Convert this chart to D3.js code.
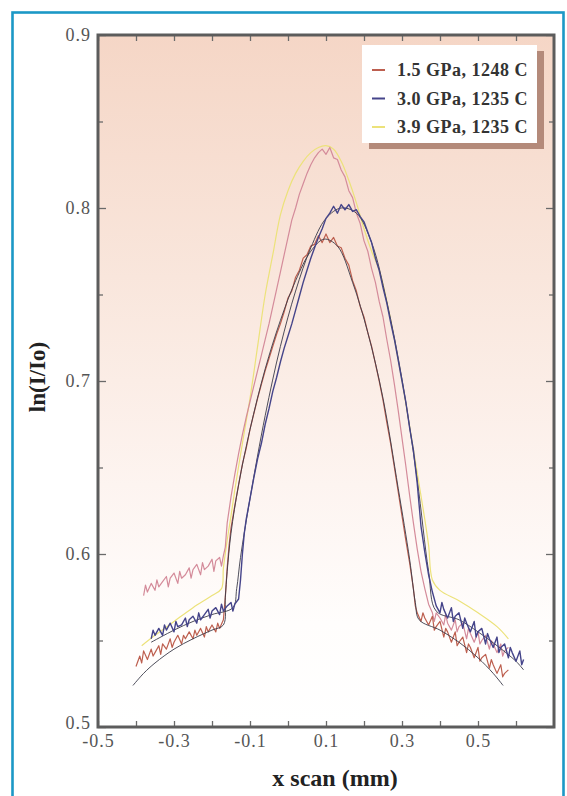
<!DOCTYPE html>
<html><head><meta charset="utf-8">
<script src="https://cdn.jsdelivr.net/npm/d3@7"></script>
<style>html,body{margin:0;padding:0;background:#fff;} svg{display:block;}</style>
</head><body>
<script>
// ---- axis values ----
const xTickValues = [-0.5,-0.4,-0.3,-0.2,-0.1,0,0.1,0.2,0.3,0.4,0.5,0.6];
const xTickLabels = [-0.5,-0.3,-0.1,0.1,0.3,0.5];
const yMajorTicks = [0.5,0.6,0.7,0.8,0.9];
const yMinorTicks = [0.55,0.65,0.75,0.85];

// ---- legend ----
const legendNames = ["1.5 GPa, 1248 C","3.0 GPa, 1235 C","3.9 GPa, 1235 C"];

// ---- measured profiles [x (mm), ln(I/Io)] ----
const data15 = [
[-0.40,0.535],[-0.39,0.541],[-0.385,0.537],[-0.38,0.544],[-0.37,0.539],[-0.36,0.545],[-0.355,0.541],[-0.35,0.543],
[-0.34,0.547],[-0.335,0.542],[-0.33,0.548],[-0.32,0.545],[-0.31,0.551],[-0.305,0.546],[-0.30,0.549],[-0.29,0.553],
[-0.28,0.548],[-0.275,0.553],[-0.27,0.551],[-0.26,0.555],[-0.25,0.551],[-0.245,0.556],[-0.24,0.553],[-0.23,0.557],
[-0.22,0.552],[-0.215,0.558],[-0.21,0.555],[-0.20,0.559],[-0.19,0.555],[-0.185,0.560],[-0.18,0.557],[-0.17,0.562],
[-0.165,0.575],[-0.16,0.592],[-0.155,0.605],[-0.15,0.615],[-0.14,0.628],[-0.13,0.640],[-0.12,0.652],[-0.11,0.661],
[-0.10,0.672],[-0.09,0.681],[-0.08,0.690],[-0.07,0.698],[-0.06,0.706],[-0.05,0.713],[-0.04,0.720],[-0.03,0.727],
[-0.02,0.733],[-0.01,0.740],[0.00,0.748],[0.01,0.752],[0.02,0.760],[0.03,0.764],[0.04,0.771],[0.05,0.773],
[0.06,0.778],[0.07,0.779],[0.08,0.784],[0.09,0.780],[0.10,0.785],[0.11,0.780],[0.12,0.783],[0.13,0.778],
[0.14,0.777],[0.15,0.771],[0.16,0.767],[0.17,0.758],[0.18,0.752],[0.19,0.743],[0.20,0.737],[0.21,0.728],
[0.22,0.720],[0.23,0.710],[0.24,0.700],[0.25,0.689],[0.26,0.676],[0.27,0.664],[0.28,0.650],[0.29,0.636],
[0.30,0.622],[0.31,0.608],[0.32,0.595],[0.33,0.580],[0.335,0.570],[0.34,0.566],[0.35,0.561],[0.355,0.566],
[0.36,0.563],[0.37,0.559],[0.38,0.564],[0.385,0.556],[0.39,0.558],[0.40,0.561],[0.41,0.552],[0.415,0.557],
[0.42,0.555],[0.43,0.549],[0.44,0.555],[0.445,0.547],[0.45,0.549],[0.46,0.552],[0.47,0.543],[0.475,0.548],
[0.48,0.546],[0.49,0.540],[0.50,0.546],[0.505,0.538],[0.51,0.540],[0.52,0.542],[0.53,0.534],[0.535,0.539],
[0.54,0.536],[0.55,0.531],[0.56,0.536],[0.565,0.529],[0.57,0.531],[0.58,0.533]
];
const data30 = [
[-0.36,0.551],[-0.355,0.556],[-0.35,0.553],[-0.34,0.557],[-0.33,0.553],[-0.325,0.559],[-0.32,0.556],[-0.31,0.560],
[-0.30,0.555],[-0.295,0.561],[-0.29,0.558],[-0.28,0.559],[-0.27,0.563],[-0.265,0.558],[-0.26,0.562],[-0.25,0.564],
[-0.24,0.560],[-0.235,0.566],[-0.23,0.562],[-0.22,0.565],[-0.21,0.568],[-0.205,0.563],[-0.20,0.567],[-0.19,0.569],
[-0.18,0.565],[-0.175,0.571],[-0.17,0.567],[-0.16,0.570],[-0.15,0.572],[-0.145,0.567],[-0.14,0.571],[-0.13,0.574],
[-0.125,0.585],[-0.12,0.600],[-0.115,0.612],[-0.11,0.620],[-0.10,0.632],[-0.09,0.644],[-0.08,0.655],[-0.07,0.664],
[-0.06,0.675],[-0.05,0.684],[-0.04,0.694],[-0.03,0.702],[-0.02,0.711],[-0.01,0.719],[0.00,0.726],[0.01,0.733],
[0.02,0.741],[0.03,0.749],[0.04,0.757],[0.05,0.764],[0.06,0.771],[0.07,0.777],[0.08,0.783],[0.09,0.788],
[0.10,0.794],[0.11,0.797],[0.12,0.801],[0.13,0.797],[0.14,0.802],[0.15,0.799],[0.16,0.802],[0.17,0.798],
[0.18,0.799],[0.19,0.795],[0.20,0.792],[0.21,0.786],[0.22,0.780],[0.23,0.771],[0.24,0.764],[0.25,0.754],
[0.26,0.745],[0.27,0.734],[0.28,0.724],[0.29,0.712],[0.30,0.700],[0.31,0.688],[0.32,0.673],[0.33,0.660],
[0.34,0.641],[0.35,0.616],[0.36,0.601],[0.37,0.588],[0.38,0.578],[0.39,0.570],[0.40,0.566],[0.405,0.572],
[0.41,0.568],[0.42,0.563],[0.43,0.569],[0.435,0.561],[0.44,0.564],[0.45,0.566],[0.46,0.557],[0.465,0.563],
[0.47,0.560],[0.48,0.555],[0.49,0.561],[0.495,0.552],[0.50,0.555],[0.51,0.557],[0.52,0.548],[0.525,0.554],
[0.53,0.551],[0.54,0.546],[0.55,0.552],[0.555,0.543],[0.56,0.546],[0.57,0.548],[0.58,0.540],[0.585,0.546],
[0.59,0.543],[0.60,0.538],[0.61,0.544],[0.615,0.536],[0.62,0.539]
];
const data39 = [
[-0.38,0.576],[-0.375,0.582],[-0.37,0.578],[-0.36,0.583],[-0.35,0.579],[-0.345,0.585],[-0.34,0.581],[-0.33,0.584],
[-0.32,0.587],[-0.315,0.581],[-0.31,0.586],[-0.30,0.589],[-0.29,0.583],[-0.285,0.590],[-0.28,0.586],[-0.27,0.588],
[-0.26,0.592],[-0.255,0.586],[-0.25,0.591],[-0.24,0.594],[-0.23,0.588],[-0.225,0.595],[-0.22,0.591],[-0.21,0.593],
[-0.20,0.597],[-0.195,0.590],[-0.19,0.596],[-0.18,0.598],[-0.175,0.593],[-0.17,0.599],[-0.165,0.604],[-0.16,0.618],
[-0.15,0.633],[-0.14,0.646],[-0.13,0.658],[-0.12,0.669],[-0.11,0.679],[-0.10,0.688],[-0.09,0.697],[-0.08,0.706],
[-0.07,0.715],[-0.06,0.724],[-0.05,0.733],[-0.04,0.743],[-0.03,0.753],[-0.02,0.763],[-0.01,0.773],[0.00,0.783],
[0.01,0.793],[0.02,0.800],[0.03,0.808],[0.04,0.814],[0.05,0.820],[0.06,0.825],[0.07,0.829],[0.08,0.832],
[0.09,0.834],[0.10,0.831],[0.11,0.835],[0.12,0.829],[0.13,0.828],[0.14,0.822],[0.15,0.818],[0.16,0.810],
[0.17,0.806],[0.18,0.797],[0.19,0.791],[0.20,0.781],[0.21,0.775],[0.22,0.765],[0.23,0.757],[0.24,0.746],
[0.25,0.737],[0.26,0.724],[0.27,0.712],[0.28,0.698],[0.29,0.683],[0.30,0.667],[0.31,0.651],[0.32,0.634],
[0.33,0.618],[0.34,0.603],[0.35,0.590],[0.36,0.580],[0.37,0.571],[0.38,0.566],[0.385,0.561],[0.39,0.566],
[0.40,0.563],[0.41,0.559],[0.415,0.565],[0.42,0.560],[0.43,0.556],[0.44,0.562],[0.445,0.555],[0.45,0.558],
[0.46,0.560],[0.47,0.551],[0.475,0.557],[0.48,0.554],[0.49,0.549],[0.50,0.555],[0.505,0.548],[0.51,0.550],
[0.52,0.553],[0.53,0.545],[0.535,0.550],[0.54,0.548],[0.55,0.543],[0.56,0.548],[0.565,0.541],[0.57,0.544],
[0.58,0.546]
];

// ---- model curves ----
const fit15 = [
[-0.408,0.524],[-0.38,0.531],[-0.35,0.537],[-0.30,0.545],[-0.25,0.551],[-0.20,0.556],[-0.17,0.559],[-0.165,0.575],
[-0.16,0.590],[-0.15,0.612],[-0.13,0.640],[-0.10,0.672],[-0.06,0.707],[-0.02,0.735],[0.02,0.758],[0.06,0.775],
[0.095,0.782],[0.13,0.778],[0.17,0.757],[0.21,0.728],[0.25,0.690],[0.29,0.638],[0.32,0.597],[0.335,0.572],
[0.345,0.562],[0.40,0.556],[0.45,0.549],[0.50,0.540],[0.54,0.531],[0.566,0.524]
];
const fit30 = [
[-0.36,0.549],[-0.30,0.556],[-0.25,0.561],[-0.20,0.565],[-0.145,0.569],[-0.135,0.580],[-0.125,0.598],[-0.10,0.632],
[-0.06,0.680],[-0.02,0.720],[0.02,0.752],[0.06,0.777],[0.10,0.794],[0.14,0.800],[0.18,0.797],[0.22,0.780],
[0.26,0.746],[0.30,0.701],[0.34,0.643],[0.37,0.590],[0.39,0.567],[0.45,0.562],[0.50,0.555],[0.55,0.547],
[0.60,0.538],[0.62,0.533]
];
const fit39 = [
[-0.385,0.547],[-0.35,0.553],[-0.30,0.561],[-0.25,0.569],[-0.20,0.576],[-0.175,0.580],[-0.17,0.592],[-0.16,0.608],
[-0.15,0.622],[-0.14,0.637],[-0.12,0.664],[-0.10,0.690],[-0.08,0.720],[-0.06,0.750],[-0.04,0.773],[-0.02,0.796],
[0.00,0.810],[0.02,0.820],[0.04,0.827],[0.06,0.832],[0.08,0.835],[0.10,0.836],[0.12,0.834],[0.14,0.827],
[0.16,0.816],[0.18,0.803],[0.20,0.788],[0.22,0.775],[0.24,0.764],[0.26,0.746],[0.28,0.724],[0.30,0.700],
[0.32,0.674],[0.34,0.647],[0.36,0.620],[0.37,0.605],[0.38,0.585],[0.40,0.579],[0.45,0.573],[0.50,0.566],
[0.55,0.558],[0.58,0.551]
];

const colors = {red:"#bd5f4f", blue:"#45448a", pink:"#d48b9a", yellow:"#ece27a", fit:"#3a3a48"};

const W = 567, H = 796;
const svg = d3.select("body").append("svg").attr("width", W).attr("height", H);

const x = d3.scaleLinear().domain([-0.5, 0.7]).range([98, 554]);
const y = d3.scaleLinear().domain([0.5, 0.9]).range([727, 35]);

// outer frame
svg.append("rect").attr("x", 12.5).attr("y", 12.5).attr("width", 551).attr("height", 820)
  .attr("fill", "#fff").attr("stroke", "#1c98c6").attr("stroke-width", 2.6);

// plot background gradient
const defs = svg.append("defs");
const grad = defs.append("linearGradient").attr("id", "bg").attr("x1", 0).attr("y1", 0).attr("x2", 0).attr("y2", 1);
[[0,"#f5d6c6"],[0.35,"#f9e6dc"],[0.65,"#fdf4f0"],[0.85,"#fffdfc"],[1,"#ffffff"]].forEach(([o,c]) =>
  grad.append("stop").attr("offset", o).attr("stop-color", c));
defs.append("clipPath").attr("id", "clip").append("rect")
  .attr("x", x(-0.5)).attr("y", y(0.9)).attr("width", x(0.7) - x(-0.5)).attr("height", y(0.5) - y(0.9));

svg.append("rect").attr("x", x(-0.5)).attr("y", y(0.9))
  .attr("width", x(0.7) - x(-0.5)).attr("height", y(0.5) - y(0.9)).attr("fill", "url(#bg)");

// axes with inward ticks
const fmtX = d => xTickLabels.some(v => Math.abs(v - d) < 1e-9) ? d.toFixed(1) : "";
const tickFont = g => {
  g.select(".domain").remove();
  g.selectAll(".tick line").attr("stroke", "#6a6a6a").attr("stroke-width", 1.3);
  g.selectAll(".tick text").attr("fill", "#555").attr("font-family", "Liberation Serif, Times New Roman, serif")
    .attr("font-size", 18).attr("letter-spacing", 1);
};
svg.append("g").attr("transform", `translate(0,${y(0.5)})`)
  .call(d3.axisBottom(x).tickValues(xTickValues).tickSizeInner(-6).tickSizeOuter(0).tickPadding(7).tickFormat(fmtX))
  .call(tickFont);
svg.append("g").attr("transform", `translate(0,${y(0.9)})`)
  .call(d3.axisTop(x).tickValues(xTickValues).tickSizeInner(-6).tickSizeOuter(0).tickFormat(""))
  .call(tickFont);
const yAxisG = svg.append("g").attr("transform", `translate(${x(-0.5)},0)`)
  .call(d3.axisLeft(y).tickValues(yMajorTicks).tickSizeInner(-8).tickSizeOuter(0).tickPadding(7).tickFormat(d3.format(".1f")))
  .call(tickFont);
// the bottom label sits a little higher so it clears the x labels
yAxisG.selectAll(".tick").filter(d => d === 0.5).select("text").attr("y", -4);
svg.append("g").attr("transform", `translate(${x(-0.5)},0)`)
  .call(d3.axisLeft(y).tickValues(yMinorTicks).tickSizeInner(-5).tickSizeOuter(0).tickFormat(""))
  .call(tickFont);
svg.append("g").attr("transform", `translate(${x(0.7)},0)`)
  .call(d3.axisRight(y).tickValues(yMajorTicks).tickSizeInner(-8).tickSizeOuter(0).tickFormat(""))
  .call(tickFont);
svg.append("g").attr("transform", `translate(${x(0.7)},0)`)
  .call(d3.axisRight(y).tickValues(yMinorTicks).tickSizeInner(-5).tickSizeOuter(0).tickFormat(""))
  .call(tickFont);

// curves
const line = d3.line().x(d => x(d[0])).y(d => y(d[1]));
const smooth = d3.line().x(d => x(d[0])).y(d => y(d[1])).curve(d3.curveCatmullRom.alpha(0.5));
const plot = svg.append("g").attr("clip-path", "url(#clip)");
const drawSeries = (data, gen, color, w) =>
  plot.append("path").datum(data).attr("d", gen).attr("fill", "none")
    .attr("stroke", color).attr("stroke-width", w).attr("stroke-linejoin", "round");

drawSeries(fit39, smooth, colors.yellow, 1.2);
drawSeries(data39, line, colors.pink, 1.2);
drawSeries(data15, line, colors.red, 1.2);
drawSeries(fit15, smooth, colors.fit, 0.9);
drawSeries(fit30, smooth, colors.fit, 0.9);
drawSeries(data30, line, colors.blue, 1.4);

// plot frame
svg.append("rect").attr("x", x(-0.5)).attr("y", y(0.9))
  .attr("width", x(0.7) - x(-0.5)).attr("height", y(0.5) - y(0.9))
  .attr("fill", "none").attr("stroke", "#5c5c5c").attr("stroke-width", 3);

// legend
const lg = svg.append("g");
lg.append("rect").attr("x", 369).attr("y", 51).attr("width", 175).attr("height", 98).attr("fill", "#b48a7a");
lg.append("rect").attr("x", 362).attr("y", 45).attr("width", 175).attr("height", 98).attr("fill", "#fff");
const legendColors = [colors.red, colors.blue, colors.yellow];
legendNames.forEach((name, i) => {
  const cy = 70 + i * 28.5;
  lg.append("line").attr("x1", 372).attr("x2", 385).attr("y1", cy).attr("y2", cy)
    .attr("stroke", legendColors[i]).attr("stroke-width", 2);
  lg.append("text").attr("x", 397).attr("y", cy + 6).text(name)
    .attr("font-family", "Liberation Serif, Times New Roman, serif").attr("font-weight", "bold")
    .attr("font-size", 18).attr("letter-spacing", 0.5).attr("fill", "#333");
});

// axis titles
svg.append("text").attr("x", 335).attr("y", 786).attr("text-anchor", "middle").text("x scan (mm)")
  .attr("font-family", "Liberation Serif, Times New Roman, serif").attr("font-weight", "bold")
  .attr("font-size", 24).attr("fill", "#222");
svg.append("text").attr("transform", "translate(45,377) rotate(-90)").attr("text-anchor", "middle").text("ln(I/Io)")
  .attr("font-family", "Liberation Serif, Times New Roman, serif").attr("font-weight", "bold")
  .attr("font-size", 23).attr("fill", "#222");
</script>
</body></html>
